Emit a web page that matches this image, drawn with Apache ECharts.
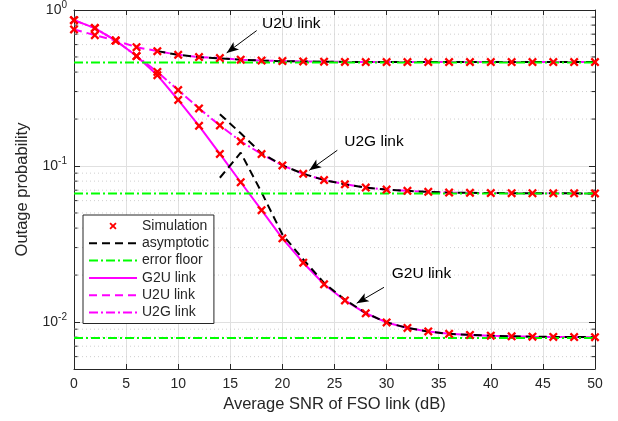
<!DOCTYPE html>
<html>
<head>
<meta charset="utf-8">
<script src="https://cdn.jsdelivr.net/npm/echarts@6/dist/echarts.min.js"></script>
<style>
html,body{margin:0;padding:0;background:#fff;}
#chart{width:618px;height:421px;}
</style>
</head>
<body>
<div id="chart"></div>
<script>
// ---------------- data ----------------
const snr = [0,2,4,6,8,10,12,14,16,18,20,22,24,26,28,30,32,34,36,38,40,42,44,46,48,50];
const g2u = [0.861,0.766,0.637,0.507,0.382,0.265,0.181,0.1195,0.0787,0.0521,0.0344,0.0240,0.01746,0.01375,0.01138,0.00994,0.00916,0.0087,0.0084,0.00827,0.00818,0.0081,0.00806,0.00803,0.00801,0.0080];
const u2u = [0.75,0.69,0.637,0.578,0.545,0.516,0.499,0.492,0.480,0.474,0.471,0.468,0.466,0.465,0.464,0.464,0.464,0.464,0.464,0.464,0.464,0.464,0.464,0.464,0.464,0.464];
const u2g = [0.861,0.766,0.637,0.507,0.401,0.307,0.234,0.182,0.144,0.1193,0.1009,0.0892,0.0813,0.0764,0.0727,0.0706,0.0693,0.0683,0.0676,0.0673,0.0671,0.0670,0.0669,0.0668,0.0668,0.0667];

const asymU2Ux = [8,10,12,14,16,18,20,22,24,26,28,30,32,34,36,38,40,42,44,46,48,50];
const asymU2U  = [0.545,0.516,0.499,0.490,0.480,0.474,0.470,0.468,0.466,0.465,0.464,0.464,0.464,0.464,0.464,0.464,0.464,0.464,0.464,0.464,0.464,0.464];
const asymU2Gx = [14,16,18,20,22,24,26,28,30,32,34,36,38,40,42,44,46,48,50];
const asymU2G  = [0.215,0.162,0.1208,0.1009,0.0892,0.0813,0.0764,0.0727,0.0706,0.0693,0.0683,0.0676,0.0673,0.0671,0.0670,0.0669,0.0668,0.0668,0.0667];
const asymG2Ux = [14,16,18,20,22,24,26,28,30,32,34,36,38,40,42,44,46,48,50];
const asymG2U  = [0.0841,0.1217,0.0678,0.0364,0.0252,0.0178,0.0139,0.01142,0.00994,0.00916,0.0087,0.0084,0.00827,0.00818,0.0081,0.00806,0.00803,0.00801,0.0080];

const floorG2U = 0.00791;
const floorU2U = 0.461;
const floorU2G = 0.0666;

const xMin = 0, xMax = 50, xStep = 5;
const yMin = 0.005, yMax = 1;
const minorY = [0.006,0.007,0.008,0.009,0.02,0.03,0.04,0.05,0.06,0.07,0.08,0.09,0.2,0.3,0.4,0.5,0.6,0.7,0.8,0.9];

// annotations: [label, textX, textY, arrowFromX, arrowFromY, arrowToX, arrowToY]
const notes = [
  ['U2U link', 18.04, 0.812, 17.53, 0.738, 14.65, 0.531],
  ['U2G link', 25.94, 0.1439, 25.27, 0.1262, 22.58, 0.0938],
  ['G2U link', 30.49, 0.02027, 29.75, 0.01669, 27.13, 0.01320]
];

const legendNames = ['Simulation','asymptotic','error floor','G2U link','U2U link','U2G link'];

// ---------------- styles ----------------
const FONT = '"Liberation Sans", Arial, Helvetica, sans-serif';
const AX = '#262626';
const MAG = '#ff00ff';
const GRN = '#00ff00';
const XPATH = 'path://M0,1.8L1.8,0L5,3.2L8.2,0L10,1.8L6.8,5L10,8.2L8.2,10L5,6.8L1.8,10L0,8.2L3.2,5Z';
const NOPATH = 'path://M0,0L1,0L1,1Z';

function pairs(xs, ys){ return xs.map((x,i)=>[x, ys[i]]); }

const chart = echarts.init(document.getElementById('chart'), null, {renderer:'canvas'});

function lineSeries(name, data, color, width, type, z){
  return {
    name, type:'line', data, symbol:NOPATH, showSymbol:false, symbolSize:0,
    lineStyle:{color, width, type}, itemStyle:{color:'rgba(0,0,0,0)'},
    z: z, animation:false, silent:true, clip:true
  };
}
function markerSeries(data){
  return {
    name:'Simulation', type:'line', data, symbol:XPATH, symbolSize:9,
    showSymbol:true, showAllSymbol:true,
    lineStyle:{width:0, color:'#ff0000'},
    itemStyle:{color:'#ff0000', borderWidth:0},
    z:10, animation:false, silent:true
  };
}

const series = [
  markerSeries(pairs(snr, g2u)),
  lineSeries('asymptotic', pairs(asymU2Ux, asymU2U), '#000', 2, [8,5], 4),
  lineSeries('error floor', [[xMin,floorG2U],[xMax,floorG2U]], GRN, 2, [9,3,2,3], 5),
  lineSeries('G2U link', pairs(snr, g2u), MAG, 2, 'solid', 3),
  lineSeries('U2U link', pairs(snr, u2u), MAG, 2, [8,5], 3),
  lineSeries('U2G link', pairs(snr, u2g), MAG, 2, [9,3,2,3], 3),
  lineSeries('asymptotic', pairs(asymU2Gx, asymU2G), '#000', 2, [8,5], 4),
  lineSeries('asymptotic', pairs(asymG2Ux, asymG2U), '#000', 2, [8,5], 4),
  lineSeries('error floor', [[xMin,floorU2U],[xMax,floorU2U]], GRN, 2, [9,3,2,3], 5),
  lineSeries('error floor', [[xMin,floorU2G],[xMax,floorU2G]], GRN, 2, [9,3,2,3], 5),
  markerSeries(pairs(snr, u2u)),
  markerSeries(pairs(snr, u2g)),
  // minor log grid lines and ticks
  {
    type:'custom', name:'minorgrid', silent:true, animation:false, z:1,
    data: minorY.map(v=>[xMin, v]),
    renderItem: function(params, api){
      const v = api.value(1);
      const p = api.coord([xMin, v]);
      const q = api.coord([xMax, v]);
      return {type:'group', children:[
        {type:'line', shape:{x1:p[0], y1:p[1], x2:q[0], y2:q[1]},
         style:{stroke:'#cfcfcf', lineWidth:1, lineDash:[1,3]}},
        {type:'line', shape:{x1:p[0], y1:p[1], x2:p[0]+3.5, y2:p[1]},
         style:{stroke:AX, lineWidth:1}},
        {type:'line', shape:{x1:q[0]-3.5, y1:q[1], x2:q[0], y2:q[1]},
         style:{stroke:AX, lineWidth:1}}
      ]};
    }
  },
  // annotations
  {
    type:'line', name:'notes', data:[], silent:true, animation:false, z:8,
    markLine:{
      silent:true, animation:false,
      symbol:['none','arrow'], symbolSize:[7,12],
      lineStyle:{color:'#000', width:1, type:'solid'},
      label:{show:false},
      data: notes.map(n=>[{coord:[n[3], n[4]]},{coord:[n[5], n[6]]}])
    },
    markPoint:{
      silent:true, animation:false, symbol:'circle', symbolSize:0,
      label:{show:true, position:'right', distance:0, color:'#000', fontSize:15.5, fontFamily:FONT,
             formatter: p => p.name},
      data: notes.map(n=>({name:n[0], coord:[n[1], n[2]]}))
    }
  }
];

const option = {
  backgroundColor:'#fff',
  animation:false,
  textStyle:{fontFamily:FONT},
  grid:{left:74, top:8, width:521, height:361, containLabel:false},
  legend:{
    data: legendNames,
    orient:'vertical', left:83, top:215,
    itemWidth:48, itemHeight:9, itemGap:3.3,
    padding:[4,5,4,5],
    backgroundColor:'#fff', borderColor:AX, borderWidth:1,
    textStyle:{fontSize:14, color:AX, fontFamily:FONT},
    selectedMode:false
  },
  xAxis:[
    {
      type:'value', min:xMin, max:xMax, interval:xStep, position:'bottom',
      name:'Average SNR of FSO link (dB)', nameLocation:'middle', nameGap:27,
      nameTextStyle:{fontSize:16.5, color:AX, fontFamily:FONT},
      axisLine:{show:true, onZero:false, lineStyle:{color:AX, width:1}},
      axisTick:{show:true, inside:true, length:5, lineStyle:{color:AX}},
      axisLabel:{fontSize:14, color:AX, margin:8, fontFamily:FONT},
      splitLine:{show:true, lineStyle:{color:'#e0e0e0', width:1}}
    },
    {
      type:'value', min:xMin, max:xMax, interval:xStep, position:'top',
      axisLine:{show:true, onZero:false, lineStyle:{color:AX, width:1}},
      axisTick:{show:true, inside:true, length:5, lineStyle:{color:AX}},
      axisLabel:{show:false}, splitLine:{show:false}
    }
  ],
  yAxis:[
    {
      type:'log', logBase:10, min:yMin, max:yMax, position:'left',
      name:'Outage probability', nameLocation:'middle', nameGap:43,
      nameTextStyle:{fontSize:16.5, color:AX, fontFamily:FONT},
      axisLine:{show:true, onZero:false, lineStyle:{color:AX, width:1}},
      axisTick:{show:true, inside:true, length:6, lineStyle:{color:AX}},
      axisLabel:{
        margin:7, color:AX, fontFamily:FONT,
        formatter: function(v){
          const e = Math.round(Math.log10(v));
          if (Math.abs(v/Math.pow(10,e) - 1) > 1e-6) return '';
          return '{b|10}{s|' + e + '}';
        },
        rich:{
          b:{fontSize:14, color:AX, fontFamily:FONT},
          s:{fontSize:10, color:AX, fontFamily:FONT, padding:[0,0,10,0]}
        }
      },
      splitLine:{show:true, lineStyle:{color:'#e0e0e0', width:1}}
    },
    {
      type:'log', logBase:10, min:yMin, max:yMax, position:'right',
      axisLine:{show:true, onZero:false, lineStyle:{color:AX, width:1}},
      axisTick:{show:true, inside:true, length:6, lineStyle:{color:AX}},
      axisLabel:{show:false}, splitLine:{show:false}
    }
  ],
  series: series
};
chart.setOption(option);
</script>
</body>
</html>
